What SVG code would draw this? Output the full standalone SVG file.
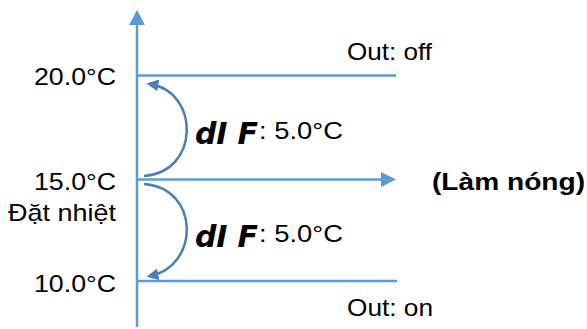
<svg xmlns="http://www.w3.org/2000/svg" width="587" height="329" viewBox="0 0 587 329">
<style>
.ax{stroke:#5b9bd5;stroke-width:2.5;fill:none}
.arc{stroke:#4a7fb5;stroke-width:2.5;fill:none}
.t{font-family:"Liberation Sans",Arial,sans-serif;font-size:24px;fill:#000}
.seg{font-family:"DejaVu Sans",sans-serif;font-style:italic;font-weight:bold;font-size:30px;fill:#000}
</style>
<defs>
<marker id="ah" markerWidth="12" markerHeight="12" refX="7" refY="5" orient="auto" markerUnits="userSpaceOnUse" viewBox="0 0 10 10">
<path d="M0,0 L10,5 L0,10 Z" fill="#4a7fb5"/>
</marker>
</defs>
<rect width="587" height="329" fill="#fff"/>
<g id="connectors">
<line class="ax" x1="137" y1="327" x2="137" y2="22"/>
<path d="M129,25 L137,10 L145,25 Z" fill="#5b9bd5"/>
<line class="ax" x1="137" y1="75.5" x2="396" y2="75.5"/>
<line class="ax" x1="137" y1="179.5" x2="382" y2="179.5"/>
<path d="M381,172 L396,179.5 L381,187 Z" fill="#5b9bd5"/>
<line class="ax" x1="137" y1="281" x2="397" y2="281"/>
<path class="arc" d="M144,176 C200,172 200,92 150,84" marker-end="url(#ah)"/>
<path class="arc" d="M144,184 C200,188 200,266 150,276" marker-end="url(#ah)"/>
</g>
<g id="labels">
<text class="t" x="34" y="85" textLength="82" lengthAdjust="spacingAndGlyphs">20.0°C</text>
<text class="t" x="34" y="190" textLength="82" lengthAdjust="spacingAndGlyphs">15.0°C</text>
<text class="t" x="8" y="221" textLength="108" lengthAdjust="spacingAndGlyphs">Đặt nhiệt</text>
<text class="t" x="34" y="292" textLength="82" lengthAdjust="spacingAndGlyphs">10.0°C</text>
<text class="t" x="347" y="60" textLength="85" lengthAdjust="spacingAndGlyphs">Out: off</text>
<text class="t" x="347" y="316" textLength="86" lengthAdjust="spacingAndGlyphs">Out: on</text>
<text class="t" x="432" y="190" font-weight="bold" textLength="153" lengthAdjust="spacingAndGlyphs">(Làm nóng)</text>
</g>
<g id="dif-top">
<text class="seg" x="195" y="144" textLength="63" lengthAdjust="spacing">dI F</text>
<text class="t" x="259" y="139" textLength="84" lengthAdjust="spacingAndGlyphs">: 5.0°C</text>
</g>
<g id="dif-bottom">
<text class="seg" x="195" y="247" textLength="63" lengthAdjust="spacing">dI F</text>
<text class="t" x="259" y="242" textLength="84" lengthAdjust="spacingAndGlyphs">: 5.0°C</text>
</g>
</svg>
